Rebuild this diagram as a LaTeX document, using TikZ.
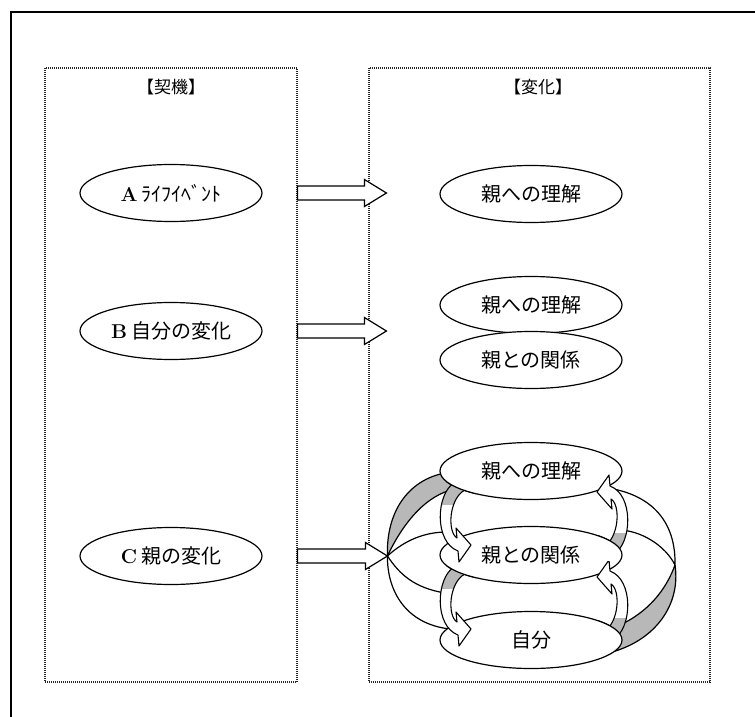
\documentclass[tikz,border=0pt]{standalone}
\usepackage{fontspec}
\newfontfamily\jp{Noto Sans CJK JP}
\usetikzlibrary{shapes.geometric, calc}

% outline of one small turning arrow (local px, y down)
\newcommand\turnpath{(13,1) .. controls (-5,12) and (-7,60) .. (17,69) -- (18,80) -- (30,63) -- (15,46) -- (16,56) .. controls (6,50) and (8,16) .. (24,8) -- cycle}

\begin{document}
\begin{tikzpicture}[x=1pt, y=-1pt,
    % boxes and ovals
    dotbox/.style={draw=black!85, line width=1.1pt, dash pattern=on 1pt off 1pt},
    ovalnode/.style={ellipse, draw, line width=1.2pt, fill=white,
        minimum width=182pt, minimum height=57pt, inner sep=0pt,
        font=\jp\fontsize{20pt}{24pt}\selectfont},
    headtext/.style={font=\jp\fontsize{17pt}{20pt}\selectfont},
    % block arrow drawn as a to path
    fatarrow/.style={draw, line width=1.2pt, fill=white, to path={
        let \p1=(\tikztostart), \p2=(\tikztotarget) in
        ({\x1},{\y1+7pt}) -- ({\x2-22pt},{\y1+7pt}) -- ({\x2-22pt},{\y1+13.5pt})
        -- ({\x2},{\y1}) -- ({\x2-22pt},{\y1-13.5pt}) -- ({\x2-22pt},{\y1-7pt})
        -- ({\x1},{\y1-7pt}) -- cycle}},
    ringedge/.style={line width=1.2pt},
    ringshade/.style={fill=black!28},
    turnarrow/.pic={
        \fill[white] \turnpath;
        \begin{scope}
            \clip (-10,-5) rectangle (35,22);
            \fill[black!28] \turnpath;
        \end{scope}
        \draw[line width=1.1pt, line join=round] \turnpath;
    },
]
\useasboundingbox (0,0) rectangle (755,717);

% --- outer frame (only top and left show) ---
\draw[line width=2pt] (10.5,717) -- (10.5,12.5) -- (755,12.5);

% --- the two dotted columns ---
\node[dotbox, minimum width=252pt, minimum height=614pt] (kiki) at (171,375) {};
\node[dotbox, minimum width=341pt, minimum height=614pt] (henka) at (539.5,375) {};
\node[headtext] (kikiTitle) at (171,87) {【契機】};
\node[headtext] (henkaTitle) at (538,87) {【変化】};

% --- triggers ---
\node[ovalnode] (trigA) at (171,193) {{\rmfamily\bfseries A}\hspace{4pt}ﾗｲﾌｲﾍﾞﾝﾄ};
\node[ovalnode] (trigB) at (171,331) {{\rmfamily\bfseries B}\hspace{4pt}自分の変化};
\node[ovalnode] (trigC) at (171,556) {{\rmfamily\bfseries C}\hspace{4pt}親の変化};

\coordinate (ringL) at ($(henka.west |- trigC)+(19,0)$);
\coordinate (ringR) at (675,565);

% --- big twisted ring (behind the C stack) ---
\fill[ringshade] (ringL) .. controls (386,512) and (408,480) .. (445,473) -- (485,468)
    -- (485,488) -- (455,489) .. controls (425,495) and (402,525) .. (ringL);
\draw[ringedge] (ringL) .. controls (386,512) and (408,480) .. (445,473)
    (ringL) .. controls (402,525) and (425,495) .. (455,489);
\draw[ringedge] (600,487) .. controls (650,492) and (676,520) .. (ringR)
    .. controls (665,545) and (640,530) .. (618,530);
\draw[ringedge] (ringL) .. controls (405,540) and (425,532) .. (447,532);
\draw[ringedge] (ringL) .. controls (400,575) and (415,588) .. (445,593);
\draw[ringedge] (ringL) .. controls (387,590) and (405,624) .. (450,629);
\fill[ringshade] (ringR) .. controls (681,605) and (655,640) .. (612,652) -- (590,645)
    -- (600,625) -- (620,625) .. controls (648,612) and (666,590) .. (ringR);
\draw[ringedge] (ringR) .. controls (681,605) and (655,640) .. (612,652)
    (ringR) .. controls (666,590) and (648,612) .. (620,625);

% --- changes ---
\node[ovalnode] (chA) at (531,194) {親への理解};
\node[ovalnode] (chB1) at (531,305) {親への理解};
\node[ovalnode] (chB2) at (531,360) {親との関係};
\node[ovalnode] (chC1) at (531,471) {親への理解};
\node[ovalnode] (chC2) at (531,555) {親との関係};
\node[ovalnode] (chC3) at (531,640) {自分};

% --- block arrows ---
\path[fatarrow] (kiki.east |- trigA) to ($(henka.west |- trigA)+(18,0)$);
\path[fatarrow] (kiki.east |- trigB) to ($(henka.west |- trigB)+(18,0)$);
\path[fatarrow] (kiki.east |- trigC) to (ringL);

% --- small turning arrows between the levels ---
\pic at (441,482) {turnarrow};
\pic at (441,566) {turnarrow};
\pic[rotate=180] at (627,555) {turnarrow};
\pic[rotate=180] at (627,640) {turnarrow};

% tails go behind the oval they leave
\begin{scope}
    \clip (446,476) rectangle (476,500);
    \draw[line width=1.2pt, fill=white] (chC1.center) ellipse [x radius=91, y radius=28.5];
\end{scope}
\begin{scope}
    \clip (446,564) rectangle (476,590);
    \draw[line width=1.2pt, fill=white] (chC2.center) ellipse [x radius=91, y radius=28.5];
\end{scope}
\begin{scope}
    \clip (596,535) rectangle (620,560);
    \draw[line width=1.2pt, fill=white] (chC2.center) ellipse [x radius=91, y radius=28.5];
\end{scope}
\begin{scope}
    \clip (596,620) rectangle (620,645);
    \draw[line width=1.2pt, fill=white] (chC3.center) ellipse [x radius=91, y radius=28.5];
\end{scope}

\end{tikzpicture}
\end{document}
